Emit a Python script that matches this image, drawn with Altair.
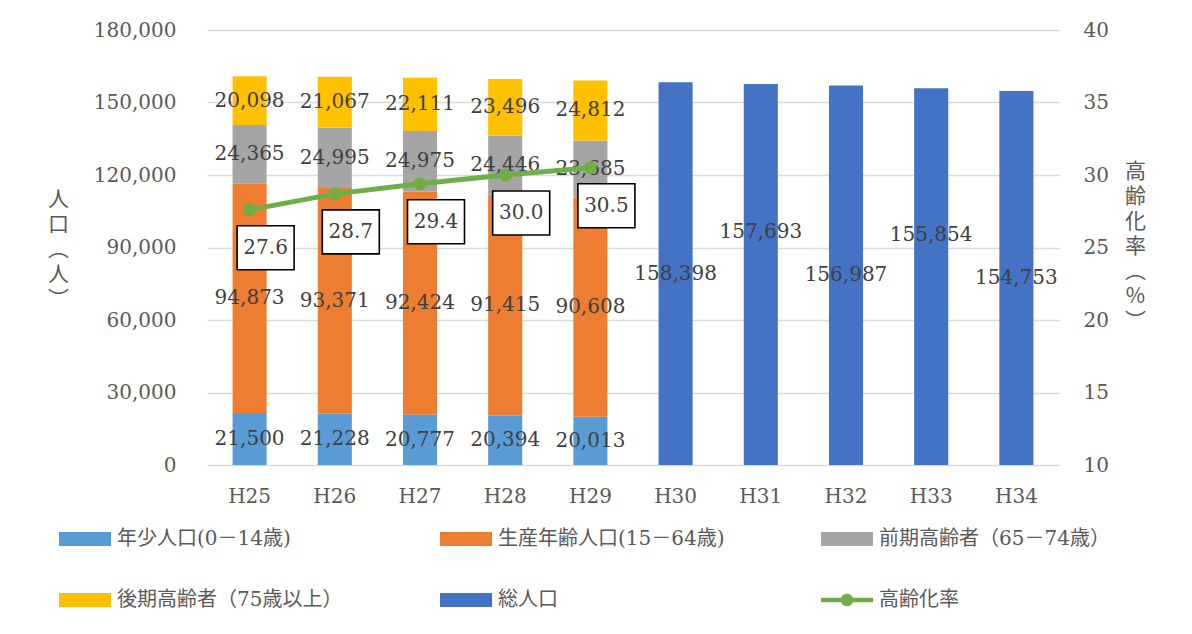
import altair as alt
import pandas as pd

years = ["H25", "H26", "H27", "H28", "H29", "H30", "H31", "H32", "H33", "H34"]
past_years = ["H25", "H26", "H27", "H28", "H29"]
future_years = ["H30", "H31", "H32", "H33", "H34"]

young = [21500, 21228, 20777, 20394, 20013]
working = [94873, 93371, 92424, 91415, 90608]
early_old = [24365, 24995, 24975, 24446, 23685]
late_old = [20098, 21067, 22111, 23496, 24812]
total_future = [158398, 157693, 156987, 155854, 154753]
aging_rate = [27.6, 28.7, 29.4, 30.0, 30.5]

series_names = ["年少人口(0－14歳)", "生産年齢人口(15－64歳)", "前期高齢者（65－74歳）",
                "後期高齢者（75歳以上）", "総人口", "高齢化率"]
series_colors = ["#5B9BD5", "#ED7D31", "#A5A5A5", "#FFC000", "#4472C4", "#70AD47"]

rows = []
for i, y in enumerate(past_years):
    for k, vals in enumerate([young, working, early_old, late_old]):
        rows.append({"year": y, "series": series_names[k], "value": vals[i], "order": k})
for i, y in enumerate(future_years):
    rows.append({"year": y, "series": series_names[4], "value": total_future[i], "order": 0})
bars_df = pd.DataFrame(rows)

rate_df = pd.DataFrame({"year": past_years, "rate": aging_rate, "series": series_names[5]})

NUM_FONT = "DejaVu Serif"
JP_FONT = "DejaVu Serif, Noto Sans CJK JP"
TXT = "#404040"

x_enc = alt.X("year:N", sort=years,
              scale=alt.Scale(paddingInner=0.6, paddingOuter=0.3),
              axis=alt.Axis(title=None, labelAngle=0, labelPadding=21, domain=False,
                            ticks=False, grid=False))

sym_rect = "M-1,-0.27H1V0.27H-1Z"
sym_line = ("M-1,-0.09H1V0.09H-1Z M0.24,0 A0.24,0.24 0 1 1 -0.24,0 "
            "A0.24,0.24 0 1 1 0.24,0Z")

legend = alt.Legend(
    title=None, orient="none", legendX=-148, legendY=483, columns=3, direction="horizontal",
    gridAlign="all", columnPadding=92, rowPadding=25,
    symbolSize=2704, symbolOpacity=1, symbolStrokeWidth=0,
    labelFont=JP_FONT, labelFontSize=20, labelColor="#595959",
    labelOffset=6, labelLimit=400,
)
color_enc = alt.Color("series:N", scale=alt.Scale(domain=series_names, range=series_colors),
                      legend=legend)
shape_enc = alt.Shape("series:N",
                      scale=alt.Scale(domain=series_names, range=[sym_rect] * 5 + [sym_line]),
                      legend=legend)

left_axis = alt.Axis(title=["人", "口", "︵", "人", "︶"], titleAngle=0,
                     titleX=-149, titleY=158, titleBaseline="top", titleAlign="center",
                     titleLineHeight=25, titleFont="Noto Sans CJK JP", titleFontSize=21,
                     titleFontWeight="normal", titleColor="#595959",
                     values=[0, 30000, 60000, 90000, 120000, 150000, 180000],
                     labelExpr="format(datum.value, ',')", labelPadding=31, grid=True,
                     orient="left")
right_axis = alt.Axis(orient="right", title=["高", "齢", "化", "率", "︵", "%", "︶"],
                      titleAngle=0, titleX=76, titleY=130, titleBaseline="top",
                      titleAlign="center", titleLineHeight=25,
                      titleFont="Noto Sans CJK JP", titleFontSize=21,
                      titleFontWeight="normal", titleColor="#595959",
                      values=[10, 15, 20, 25, 30, 35, 40],
                      labelExpr="format(datum.value, 'd')", labelPadding=24, grid=False)

y_left = alt.Scale(domain=[0, 180000])
y_right = alt.Scale(domain=[10, 40])

bars = alt.Chart(bars_df).transform_stack(
    stack="value", groupby=["year"], sort=[alt.SortField("order")], as_=["y0", "y1"]
).mark_bar().encode(
    x=x_enc,
    y=alt.Y("y0:Q", scale=y_left, axis=left_axis),
    y2="y1:Q",
    color=color_enc,
    order=alt.Order("order:Q"),
)

seg_labels = alt.Chart(bars_df).transform_filter(
    alt.FieldOneOfPredicate(field="year", oneOf=past_years)
).transform_stack(
    stack="value", groupby=["year"], sort=[alt.SortField("order")], as_=["y0", "y1"]
).transform_calculate(mid="(datum.y0 + datum.y1) / 2").mark_text(
    font=NUM_FONT, fontSize=20, color=TXT, baseline="middle"
).encode(
    x=x_enc, y=alt.Y("mid:Q", scale=y_left, axis=left_axis),
    text=alt.Text("value:Q", format=","),
)

tot_df = bars_df[bars_df["series"] == series_names[4]]
tot_low = alt.Chart(tot_df).transform_filter(
    alt.FieldOneOfPredicate(field="year", oneOf=["H30", "H32", "H34"])
).transform_calculate(mid="datum.value / 2").mark_text(
    font=NUM_FONT, fontSize=20, color=TXT, baseline="middle"
).encode(x=x_enc, y=alt.Y("mid:Q", scale=y_left, axis=left_axis),
         text=alt.Text("value:Q", format=","))
tot_high = alt.Chart(tot_df).transform_filter(
    alt.FieldOneOfPredicate(field="year", oneOf=["H31", "H33"])
).transform_calculate(mid="datum.value / 2").mark_text(
    font=NUM_FONT, fontSize=20, color=TXT, baseline="middle", dy=-42
).encode(x=x_enc, y=alt.Y("mid:Q", scale=y_left, axis=left_axis),
         text=alt.Text("value:Q", format=","))

left_group = alt.layer(bars, seg_labels, tot_low, tot_high)

y_r = alt.Y("rate:Q", scale=y_right, axis=right_axis)

line = alt.Chart(rate_df).mark_line(strokeWidth=5).encode(
    x=x_enc, y=y_r, color=color_enc,
)
points = alt.Chart(rate_df).mark_circle(size=170, opacity=1).encode(
    x=x_enc, y=y_r, color=color_enc,
)
legend_keys = alt.Chart(rate_df).transform_filter("false").mark_point(
    filled=True, opacity=1
).encode(
    x=x_enc, y=y_r, color=color_enc, shape=shape_enc,
)
box_path = "M-1,-0.772H1V0.772H-1Z"
boxes = alt.Chart(rate_df).mark_point(
    shape=box_path, size=3249, filled=True, fill="white", stroke="black",
    strokeWidth=1.6, opacity=1, xOffset=16, yOffset=38
).encode(x=x_enc, y=y_r)
box_text = alt.Chart(rate_df).mark_text(
    font=NUM_FONT, fontSize=20, color=TXT, baseline="middle", dx=16, dy=38
).encode(x=x_enc, y=y_r, text=alt.Text("rate:Q", format=".1f"))

right_group = alt.layer(line, points, legend_keys, boxes, box_text)

chart = alt.layer(left_group, right_group).resolve_scale(
    y="independent"
).properties(
    width=852, height=435,
    autosize=alt.AutoSizeParams(type="none"),
    padding={"left": 199, "top": 22, "right": 120, "bottom": 150},
).configure_view(stroke=None).configure_axis(
    labelFont=NUM_FONT, labelFontSize=20, labelColor="#595959",
    gridColor="#D9D9D9", gridWidth=1.3, domain=False, ticks=False,
)

chart.save("out.html", embed_options={"renderer": "svg", "actions": False})
